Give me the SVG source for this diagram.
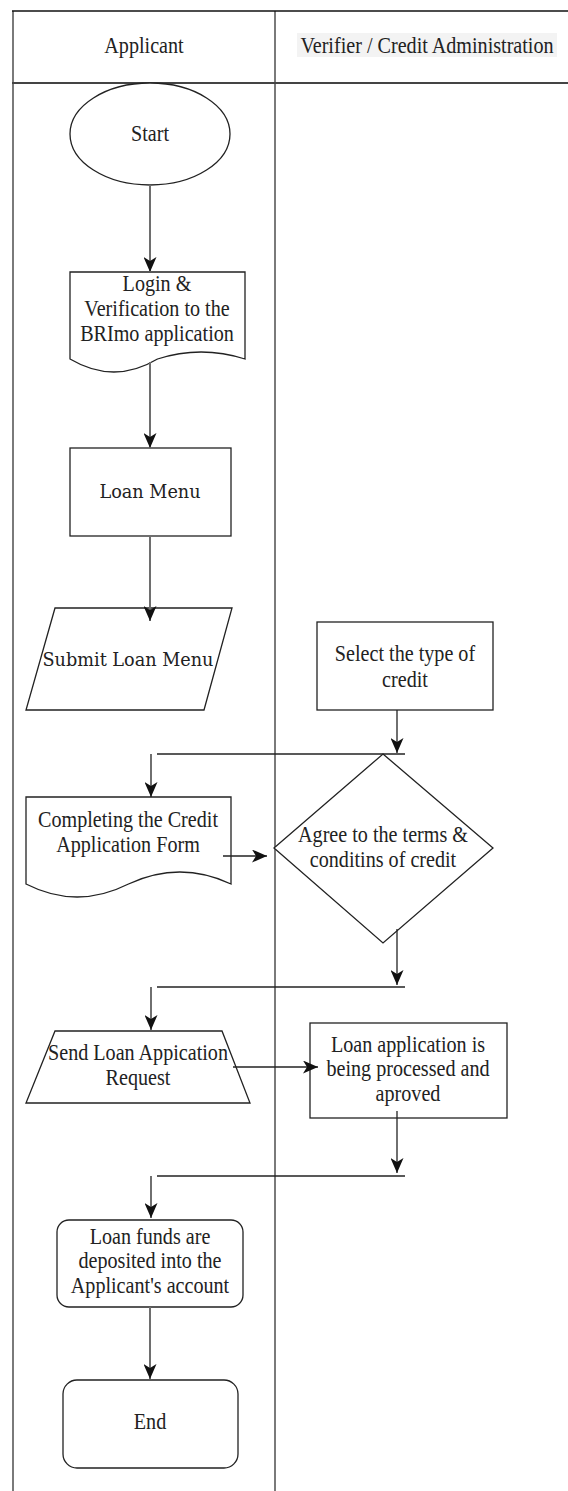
<svg xmlns="http://www.w3.org/2000/svg" width="568" height="1491" viewBox="0 0 568 1491">
<style>
.shape{fill:#fff;stroke:#222;stroke-width:1.3}
.t{font-family:"Liberation Serif","Times New Roman",serif;font-size:23px;fill:#222;text-anchor:middle}
.s{font-family:"DejaVu Serif",serif;font-size:19px;fill:#222;text-anchor:middle}
.lane{stroke:#7a7a7a;stroke-width:2;fill:none}
.c1{stroke:#6e6e6e;stroke-width:2;fill:none}
.c2{stroke:#222;stroke-width:1.3;fill:none}
</style>
<defs>
<marker id="ah" viewBox="0 0 15 13" refX="15" refY="6.5" markerWidth="15" markerHeight="13" markerUnits="userSpaceOnUse" orient="auto">
<path d="M0,0 L15,6.5 L0,13 L4,6.5 Z" fill="#111"/>
</marker>
</defs>
<rect width="568" height="1491" fill="#fff"/>
<g id="lanes">
<line class="lane" x1="13" y1="11" x2="13" y2="1491"/>
<line class="lane" x1="275" y1="11" x2="275" y2="1491"/>
<line x1="12" y1="11" x2="568" y2="11" stroke="#111" stroke-width="1.5"/>
<line x1="12" y1="83" x2="568" y2="83" stroke="#444" stroke-width="2"/>
<text class="t" transform="translate(144,53) scale(0.875,1)">Applicant</text>
<rect x="297" y="33" width="260" height="24" fill="#f3f3f3"/>
<text class="t" transform="translate(427,53) scale(0.875,1)">Verifier / Credit Administration</text>
</g>
<g id="start">
<ellipse class="shape" cx="150" cy="134" rx="80" ry="51"/>
<text class="t" transform="translate(150,141) scale(0.875,1)">Start</text>
</g>
<g id="login">
<path class="shape" d="M70,272 H245 V359 Q201,345 157.5,359 Q114,385 70,359 Z"/>
<text class="t" transform="translate(157,291) scale(0.875,1)"><tspan x="0" y="0">Login &amp;</tspan><tspan x="0" y="25">Verification  to the</tspan><tspan x="0" y="50">BRImo application</tspan></text>
</g>
<g id="loan-menu">
<rect class="shape" x="70" y="448" width="161" height="88"/>
<text class="s" transform="translate(150,498) scale(0.93,1)">Loan Menu</text>
</g>
<g id="submit">
<polygon class="shape" points="55,608 232,608 204,710 26,710"/>
<text class="s" transform="translate(128,666) scale(0.93,1)">Submit Loan Menu</text>
</g>
<g id="select-credit">
<rect class="shape" x="317" y="622" width="176" height="88"/>
<text class="t" transform="translate(405,661) scale(0.875,1)"><tspan x="0" y="0">Select the type of</tspan><tspan x="0" y="26">credit</tspan></text>
</g>
<g id="agree">
<polygon class="shape" points="383,754 493,848 383,943 274,848"/>
<text class="t" transform="translate(383,842) scale(0.875,1)"><tspan x="0" y="0">Agree to the terms &amp;</tspan><tspan x="0" y="25">conditins of credit</tspan></text>
</g>
<g id="completing">
<path class="shape" d="M26,797 H231 V884 Q180,860 128.5,884 Q77,910 26,884 Z"/>
<text class="t" transform="translate(128,827) scale(0.875,1)"><tspan x="0" y="0">Completing the Credit</tspan><tspan x="0" y="25">Application Form</tspan></text>
</g>
<g id="send-request">
<polygon class="shape" points="55,1031 222,1031 250,1103 26,1103"/>
<text class="t" transform="translate(138,1060) scale(0.875,1)"><tspan x="0" y="0">Send Loan Appication</tspan><tspan x="0" y="25">Request</tspan></text>
</g>
<g id="processed">
<rect class="shape" x="310" y="1023" width="197" height="95"/>
<text class="t" transform="translate(408,1052) scale(0.875,1)"><tspan x="0" y="0">Loan application is</tspan><tspan x="0" y="24.5">being processed and</tspan><tspan x="0" y="49">aproved</tspan></text>
</g>
<g id="deposited">
<rect class="shape" x="57" y="1220" width="186" height="87" rx="12"/>
<text class="t" transform="translate(150,1244) scale(0.875,1)"><tspan x="0" y="0">Loan funds are</tspan><tspan x="0" y="24.5">deposited into the</tspan><tspan x="0" y="49">Applicant's account</tspan></text>
</g>
<g id="end">
<rect class="shape" x="63" y="1380" width="175" height="88" rx="14"/>
<text class="t" transform="translate(150,1429) scale(0.875,1)">End</text>
</g>
<g id="connectors">
<line class="c1" x1="150" y1="185" x2="150" y2="272" marker-end="url(#ah)"/>
<line class="c1" x1="150" y1="362" x2="150" y2="448" marker-end="url(#ah)"/>
<line class="c1" x1="150" y1="536" x2="150" y2="621" marker-end="url(#ah)"/>
<line class="c2" x1="397" y1="710" x2="397" y2="753" marker-end="url(#ah)"/>
<line class="c2" x1="157" y1="754" x2="405" y2="754"/>
<line class="c2" x1="151" y1="754" x2="151" y2="797" marker-end="url(#ah)"/>
<line class="c2" x1="223" y1="856" x2="267" y2="856" marker-end="url(#ah)"/>
<line class="c2" x1="397" y1="929" x2="397" y2="985" marker-end="url(#ah)"/>
<line class="c2" x1="157" y1="987" x2="405" y2="987"/>
<line class="c2" x1="151" y1="987" x2="151" y2="1030" marker-end="url(#ah)"/>
<line class="c2" x1="233" y1="1067" x2="318" y2="1067" marker-end="url(#ah)"/>
<line class="c2" x1="397" y1="1111" x2="397" y2="1173" marker-end="url(#ah)"/>
<line class="c2" x1="157" y1="1176" x2="405" y2="1176"/>
<line class="c2" x1="151" y1="1176" x2="151" y2="1218" marker-end="url(#ah)"/>
<line class="c1" x1="150" y1="1307" x2="150" y2="1379" marker-end="url(#ah)"/>
</g>
</svg>
